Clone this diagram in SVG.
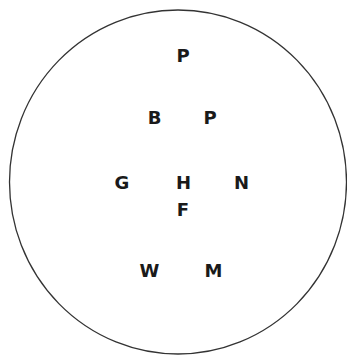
<svg xmlns="http://www.w3.org/2000/svg" width="347" height="355" viewBox="0 0 347 355">
<style>
.l{font-family:"DejaVu Sans","Liberation Sans",sans-serif;font-weight:bold;font-size:18px;fill:#1a1a1a;text-anchor:middle}
</style>
<rect width="347" height="355" fill="#fff"/>
<ellipse id="boundary" cx="178" cy="182" rx="168.5" ry="172" fill="none" stroke="#333" stroke-width="1.3"/>
<g id="n-P1"><text class="l" x="183" y="62">P</text></g>
<g id="n-B"><text class="l" x="154.5" y="124">B</text></g>
<g id="n-P2"><text class="l" x="210" y="124">P</text></g>
<g id="n-G"><text class="l" x="122" y="189">G</text></g>
<g id="n-H"><text class="l" x="183.5" y="189">H</text></g>
<g id="n-N"><text class="l" x="241.5" y="189">N</text></g>
<g id="n-F"><text class="l" x="183" y="216">F</text></g>
<g id="n-W"><text class="l" x="149.5" y="277">W</text></g>
<g id="n-M"><text class="l" x="213.5" y="277">M</text></g>
<g id="connectors"></g>
</svg>
